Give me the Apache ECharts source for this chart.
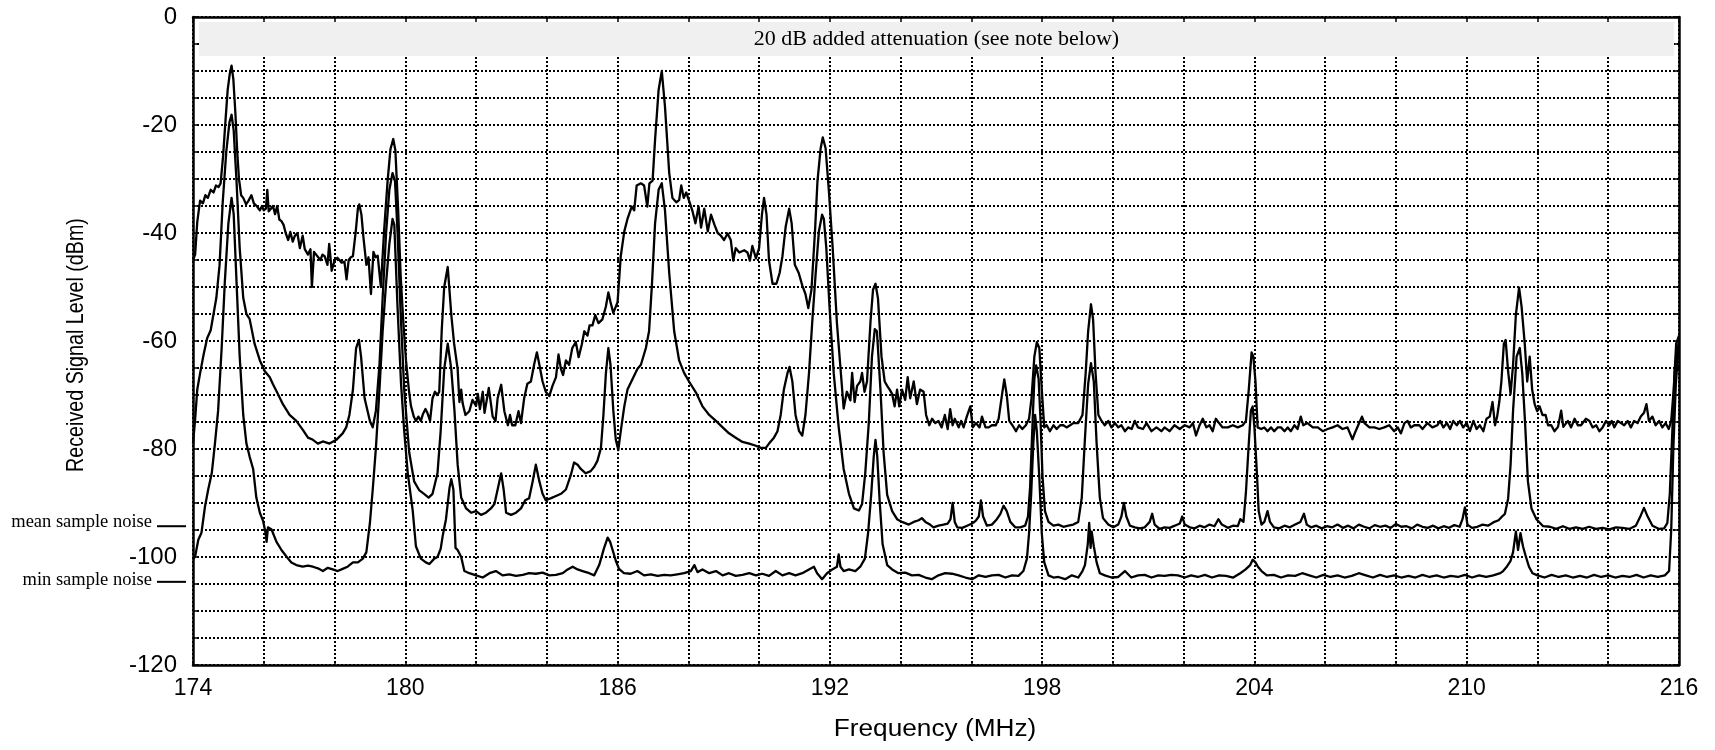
<!DOCTYPE html>
<html>
<head>
<meta charset="utf-8">
<script src="https://cdn.jsdelivr.net/npm/echarts@6.0.0/dist/echarts.min.js"></script>
<style>
	html, body { margin: 0; padding: 0; background: #fff; }
	#main { width: 1715px; height: 750px; }
</style>
</head>
<body>
<div id="main"></div>
<script>
// frequency range and level range (MHz, dBm)
const freqMin = 174;
const freqMax = 216;
const levelMin = -120;
const levelMax = 0;

// noise reference marks shown at the left of the plot
const meanNoiseLevel = -94.3;
const minNoiseLevel = -104.6;

// shaded band at the top of the plot
const bandFreq = [174.17, 215.86];
const bandLevel = [-0.9, -7.2];
const bandText = '20 dB added attenuation (see note below)';

// upper trace [MHz, dBm]
const upperTrace = [
	[174.0,-45],[174.06,-44],[174.12,-38],[174.2,-34],[174.28,-34.5],[174.35,-33],[174.42,-33.5],[174.5,-32],[174.58,-32.5],[174.65,-31.2],
	[174.72,-31.5],[174.78,-30.8],[174.85,-25.8],[174.92,-19],[174.98,-13.5],[175.04,-10.5],[175.09,-9],[175.14,-11.5],[175.2,-18],[175.25,-25],
	[175.3,-30],[175.36,-33],[175.42,-33.5],[175.5,-34.7],[175.57,-34],[175.65,-33],[175.72,-34.5],[175.8,-35],[175.89,-35.8],[175.95,-35],
	[176.0,-35.8],[176.06,-35.5],[176.1,-32],[176.14,-36],[176.2,-35.5],[176.26,-35],[176.32,-36.5],[176.38,-35],[176.44,-37.5],[176.5,-37.8],
	[176.56,-38.5],[176.62,-40],[176.69,-41.3],[176.75,-39.8],[176.82,-41.6],[176.88,-40.5],[176.95,-40],[177.02,-42.8],[177.1,-40.5],[177.16,-43],
	[177.25,-44],[177.32,-43],[177.36,-50],[177.42,-43.5],[177.48,-44],[177.53,-44.3],[177.6,-45],[177.66,-44],[177.72,-44.3],[177.8,-45.9],
	[177.85,-42],[177.92,-47],[178.0,-45.1],[178.08,-44.6],[178.14,-45],[178.2,-45.5],[178.28,-45.3],[178.34,-48.6],[178.4,-45],[178.46,-44.5],
	[178.52,-44.3],[178.6,-39.7],[178.66,-35.5],[178.7,-34.7],[178.76,-36.6],[178.82,-41],[178.9,-45.9],[178.96,-44.5],[179.03,-51.3],[179.1,-43.5],
	[179.16,-44.5],[179.22,-44.2],[179.31,-50],[179.4,-39.7],[179.5,-30.4],[179.58,-24.5],[179.66,-22.6],[179.72,-24.7],[179.8,-36],[179.87,-48],
	[179.94,-56],[180.02,-63.6],[180.1,-69],[180.16,-72],[180.24,-74],[180.3,-74.8],[180.37,-74],[180.44,-74.8],[180.5,-73.5],[180.57,-72.6],
	[180.63,-73.4],[180.7,-74.8],[180.77,-70.6],[180.84,-69.4],[180.9,-70],[180.96,-69.4],[181.03,-58],[181.1,-50],[181.2,-46.3],[181.3,-55.1],
	[181.38,-60.5],[181.48,-65.2],[181.53,-71.3],[181.58,-69],[181.62,-71.5],[181.7,-73.7],[181.81,-73],[181.9,-70.9],[182.0,-72],[182.05,-69.8],
	[182.11,-72.6],[182.19,-69.4],[182.24,-73.3],[182.36,-68.7],[182.47,-74],[182.55,-74.8],[182.61,-70.6],[182.71,-68.1],[182.8,-73],[182.9,-75.6],
	[182.96,-73.7],[183.02,-75.6],[183.11,-75.6],[183.2,-73],[183.27,-75.2],[183.36,-70.6],[183.45,-67.9],[183.55,-67.5],[183.64,-64.4],[183.72,-62.1],
	[183.79,-64.4],[183.88,-67.5],[183.97,-69.4],[184.07,-70.2],[184.16,-68.3],[184.26,-66.7],[184.33,-62.5],[184.4,-65.2],[184.46,-66.3],[184.54,-63.6],
	[184.63,-64.4],[184.72,-61.3],[184.82,-60.2],[184.9,-63],[184.99,-60.6],[185.06,-58.2],[185.15,-59],[185.21,-57.1],[185.29,-57.1],[185.37,-55.2],
	[185.46,-56.7],[185.57,-56],[185.67,-53.6],[185.74,-51],[185.8,-52.8],[185.88,-54.8],[186.0,-52.8],[186.09,-44.3],[186.19,-39.7],[186.28,-37.4],
	[186.4,-35.1],[186.47,-35.8],[186.54,-31.2],[186.66,-30.8],[186.75,-31.2],[186.84,-35.1],[186.9,-30.8],[186.99,-30.3],[187.06,-22.7],[187.16,-13.5],
	[187.25,-10],[187.34,-16.6],[187.46,-28.9],[187.55,-33.5],[187.66,-34.3],[187.74,-33.9],[187.8,-31.2],[187.87,-33.5],[187.94,-32.5],[188.02,-34],
	[188.12,-36],[188.2,-38.2],[188.29,-35.1],[188.36,-39],[188.45,-35.5],[188.55,-39.7],[188.64,-36.6],[188.74,-38.5],[188.83,-40],[188.92,-40.5],
	[189.01,-41.3],[189.11,-40.1],[189.2,-41.3],[189.27,-45.1],[189.34,-42.8],[189.44,-43.6],[189.58,-43.2],[189.67,-43.6],[189.74,-45.1],[189.81,-42.4],
	[189.91,-44.7],[190.0,-42.8],[190.08,-36.6],[190.14,-33.5],[190.21,-36.6],[190.28,-45.1],[190.38,-49.4],[190.49,-49.4],[190.58,-47.4],[190.66,-44.3],
	[190.75,-38.9],[190.85,-35.5],[190.92,-38.2],[191.01,-45.9],[191.12,-47.4],[191.22,-49.7],[191.31,-51.3],[191.39,-53.9],[191.48,-50.5],[191.58,-39.7],
	[191.65,-30.4],[191.74,-24.3],[191.8,-22.3],[191.88,-24.3],[191.97,-32],[192.08,-42.8],[192.2,-56.7],[192.33,-67.5],[192.39,-72.5],[192.48,-69.4],
	[192.58,-71],[192.63,-65.9],[192.7,-71.3],[192.77,-68.3],[192.86,-67.5],[192.91,-65.9],[192.98,-69.4],[193.05,-67.5],[193.15,-56.3],[193.22,-50.5],
	[193.29,-49.4],[193.36,-52.1],[193.46,-62.9],[193.55,-67.5],[193.62,-68.3],[193.69,-69],[193.76,-69.8],[193.83,-72.1],[193.9,-69],[193.96,-72.1],
	[194.04,-69],[194.13,-70.9],[194.2,-66.7],[194.27,-70.6],[194.37,-67.5],[194.46,-71.7],[194.55,-69],[194.65,-69.4],[194.72,-73.7],[194.81,-75.6],
	[194.89,-74.4],[194.98,-75.2],[195.07,-74.8],[195.16,-76],[195.25,-73.7],[195.33,-76.3],[195.4,-72.6],[195.47,-75.6],[195.53,-74.4],[195.64,-76],
	[195.71,-74.8],[195.78,-76],[195.87,-74],[195.97,-72.1],[196.04,-76],[196.13,-75.2],[196.23,-76],[196.3,-74],[196.4,-76],[196.49,-76],
	[196.58,-75.6],[196.69,-75.6],[196.77,-74.4],[196.86,-70.2],[196.93,-67.1],[197.0,-70],[197.07,-74.8],[197.16,-75.6],[197.26,-76.7],[197.35,-75.6],
	[197.44,-76.3],[197.54,-75.6],[197.63,-74.4],[197.7,-70.6],[197.78,-62.9],[197.85,-60.2],[197.92,-61.3],[197.99,-69],[198.06,-76],[198.13,-75.6],
	[198.22,-76.7],[198.32,-75.6],[198.41,-76.3],[198.51,-75.6],[198.6,-75.6],[198.69,-76],[198.79,-75.6],[198.88,-75.2],[199.02,-75.2],[199.14,-73.7],
	[199.23,-66],[199.3,-58.2],[199.38,-53.2],[199.44,-56],[199.51,-66],[199.59,-73.7],[199.68,-74.8],[199.77,-75.6],[199.87,-74.8],[199.96,-76],
	[200.06,-75.2],[200.15,-76],[200.24,-75.6],[200.34,-76.7],[200.43,-76],[200.53,-76.3],[200.62,-74.8],[200.71,-76],[200.85,-76.3],[200.95,-75.2],
	[201.09,-76.7],[201.23,-76],[201.37,-76.7],[201.46,-76],[201.6,-76.7],[201.74,-75.6],[201.89,-76.3],[202.03,-75.6],[202.17,-76],[202.26,-75.2],
	[202.35,-77.5],[202.45,-75.6],[202.54,-74.4],[202.64,-76],[202.73,-75.6],[202.82,-76.7],[202.91,-74.4],[203.0,-75.2],[203.1,-76],[203.25,-76],
	[203.39,-75.6],[203.53,-76],[203.67,-75.6],[203.76,-74.8],[203.84,-69],[203.92,-62.1],[203.97,-62.9],[204.03,-67.5],[204.09,-76],[204.19,-76.3],
	[204.28,-76],[204.37,-76.7],[204.47,-76],[204.56,-76.7],[204.66,-76],[204.75,-76],[204.85,-76.7],[204.94,-76],[205.03,-76.7],[205.13,-75.6],
	[205.22,-76.3],[205.31,-74],[205.38,-75.6],[205.5,-75.2],[205.65,-76],[205.79,-76],[205.93,-76.7],[206.07,-76.3],[206.21,-76],[206.35,-75.6],
	[206.49,-76.3],[206.63,-76],[206.77,-78.2],[206.86,-76.7],[206.96,-75.2],[207.04,-74],[207.11,-75.2],[207.25,-76],[207.39,-76],[207.53,-76.3],
	[207.67,-76],[207.81,-75.6],[207.95,-76.7],[208.05,-76],[208.14,-77.1],[208.24,-75.2],[208.33,-74.8],[208.42,-76],[208.52,-75.6],[208.66,-75.6],
	[208.75,-76.3],[208.89,-75.2],[209.03,-76],[209.17,-75.6],[209.25,-74.8],[209.34,-76],[209.44,-75.2],[209.53,-76.3],[209.62,-74.8],[209.72,-75.6],
	[209.81,-74.8],[209.9,-76],[210.0,-75.2],[210.09,-76.7],[210.19,-74.8],[210.28,-76.3],[210.37,-75.6],[210.47,-76.7],[210.56,-74.4],[210.65,-74],
	[210.73,-71.3],[210.8,-75.6],[210.86,-74],[210.92,-71.3],[210.98,-67.5],[211.05,-60.5],[211.1,-59.8],[211.17,-65.6],[211.24,-69.8],[211.31,-64.4],
	[211.39,-55.1],[211.48,-50.1],[211.55,-53.6],[211.64,-60.5],[211.71,-67.5],[211.78,-62.9],[211.85,-69],[211.92,-71.7],[211.99,-73],[212.06,-72.1],
	[212.14,-73.7],[212.23,-73.7],[212.3,-75.6],[212.39,-75.6],[212.48,-76.7],[212.58,-75.9],[212.67,-72.9],[212.73,-75.9],[212.86,-74.8],[212.95,-76],
	[213.05,-74.4],[213.14,-75.6],[213.23,-75.6],[213.37,-74.4],[213.47,-74.8],[213.56,-76],[213.66,-75.6],[213.75,-76.7],[213.84,-76],[213.94,-74.8],
	[214.03,-75.6],[214.1,-74.8],[214.17,-76],[214.27,-74.8],[214.36,-75.2],[214.45,-75.6],[214.55,-74.8],[214.64,-76],[214.73,-74.8],[214.83,-75.2],
	[214.92,-74],[215.01,-73.3],[215.08,-71.7],[215.15,-74.8],[215.25,-74],[215.34,-75.6],[215.44,-74.8],[215.53,-76],[215.62,-75.2],[215.71,-76.3],
	[215.78,-74.8],[215.85,-69],[215.92,-60.5],[216.0,-59]
];

// middle trace [MHz, dBm]
const middleTrace = [
	[174.0,-79],[174.06,-74.5],[174.12,-69],[174.2,-66],[174.3,-62.5],[174.4,-59.5],[174.5,-58],[174.58,-55],[174.66,-52],[174.75,-46],
	[174.84,-34.3],[174.94,-25],[175.03,-19.5],[175.09,-18.1],[175.15,-21],[175.23,-30.4],[175.32,-42.8],[175.42,-52],[175.51,-55],[175.6,-55.9],
	[175.74,-60.5],[175.89,-63.6],[176.03,-65.6],[176.17,-66.7],[176.26,-68],[176.4,-69.8],[176.54,-71.7],[176.73,-73.7],[176.92,-74.8],[177.1,-76.4],
	[177.25,-77.9],[177.39,-78.3],[177.53,-79],[177.67,-78.6],[177.86,-79],[178.05,-78.3],[178.23,-77.1],[178.33,-76],[178.42,-73.7],[178.52,-69],
	[178.61,-61.3],[178.69,-59.8],[178.75,-62.9],[178.85,-70.6],[179.0,-74.8],[179.08,-76],[179.17,-72.9],[179.27,-64.4],[179.36,-52],[179.46,-39.7],
	[179.55,-32],[179.64,-28.9],[179.71,-30.4],[179.78,-39.7],[179.87,-55],[179.97,-69],[180.11,-80.6],[180.25,-86],[180.39,-87.6],[180.53,-88.3],
	[180.66,-89],[180.77,-88.3],[180.91,-84.5],[181.0,-76.7],[181.1,-65.2],[181.2,-60.5],[181.3,-65.2],[181.39,-72.9],[181.48,-82.9],[181.58,-89],
	[181.72,-91],[181.86,-91.8],[182.0,-91.5],[182.14,-92.2],[182.28,-91.8],[182.42,-91],[182.52,-90.2],[182.61,-87.5],[182.71,-84.5],[182.78,-87.5],
	[182.85,-91.8],[182.99,-92.2],[183.13,-91.8],[183.27,-91],[183.39,-89.5],[183.5,-89.1],[183.6,-86],[183.69,-82.9],[183.79,-86],[183.88,-88.3],
	[183.97,-89.5],[184.12,-89.1],[184.26,-88.7],[184.4,-88.3],[184.54,-87.5],[184.68,-84.8],[184.77,-82.5],[184.87,-82.9],[184.96,-83.7],[185.1,-84.5],
	[185.24,-84.1],[185.34,-83.3],[185.43,-82.2],[185.53,-79.8],[185.6,-73.7],[185.67,-66],[185.74,-61.3],[185.8,-64.4],[185.88,-72.9],[185.95,-78.3],
	[186.02,-80.2],[186.09,-76.7],[186.19,-72.1],[186.28,-69],[186.42,-67.1],[186.56,-65.2],[186.66,-64.4],[186.8,-61.3],[186.89,-58.2],[186.97,-49.7],
	[187.06,-38.2],[187.16,-32],[187.25,-30.8],[187.34,-35.8],[187.46,-47.4],[187.6,-58.2],[187.74,-63.6],[187.88,-65.9],[188.02,-67.5],[188.22,-69.6],
	[188.4,-72.1],[188.59,-73.7],[188.78,-74.8],[188.97,-76],[189.15,-77.1],[189.34,-77.9],[189.53,-78.7],[189.72,-79],[189.91,-79.4],[190.05,-79.8],
	[190.19,-79.8],[190.28,-79],[190.42,-77.9],[190.52,-76.7],[190.61,-73.7],[190.7,-69],[190.8,-66],[190.86,-64.8],[190.94,-67.5],[191.03,-73.7],
	[191.13,-76.7],[191.22,-77.5],[191.31,-73.7],[191.41,-66],[191.5,-56.7],[191.6,-47.4],[191.69,-39.7],[191.78,-36.6],[191.83,-37.4],[191.9,-42.8],
	[191.99,-53.6],[192.11,-66],[192.25,-76],[192.39,-83.7],[192.54,-88.3],[192.68,-91],[192.82,-91.4],[192.91,-90.2],[193.0,-84.5],[193.1,-75.2],
	[193.19,-62.9],[193.27,-57.8],[193.33,-58.2],[193.43,-69],[193.52,-80.7],[193.62,-88.5],[193.76,-91.5],[193.9,-93],[194.04,-93.5],[194.23,-94],
	[194.37,-93.5],[194.51,-93.2],[194.6,-92.8],[194.7,-93.5],[194.83,-94],[194.93,-94.5],[195.07,-94.2],[195.21,-94],[195.33,-93.8],[195.41,-93],
	[195.47,-90],[195.53,-93.5],[195.6,-94.5],[195.74,-94.6],[195.88,-94.2],[196.02,-93.8],[196.12,-93.3],[196.21,-92.5],[196.27,-89.5],[196.33,-92.5],
	[196.44,-94.2],[196.58,-94],[196.72,-93],[196.82,-92],[196.91,-90.5],[197.0,-91.5],[197.1,-93.5],[197.24,-94.5],[197.38,-94.5],[197.52,-94.2],
	[197.6,-92.5],[197.66,-87],[197.73,-75],[197.78,-67],[197.83,-64.5],[197.9,-67],[197.95,-74],[198.01,-85],[198.08,-91.5],[198.18,-93.5],
	[198.32,-94.2],[198.46,-94],[198.6,-94.4],[198.74,-94.2],[198.88,-94],[199.02,-93.5],[199.12,-89],[199.21,-78],[199.3,-68],[199.38,-64.1],
	[199.46,-67.5],[199.54,-79],[199.63,-89],[199.72,-92.8],[199.87,-94],[200.01,-94.5],[200.15,-94],[200.24,-92.5],[200.31,-90],[200.38,-92.5],
	[200.48,-94.2],[200.62,-94.5],[200.76,-94.7],[200.9,-94.5],[201.04,-93.5],[201.11,-92],[201.18,-94],[201.32,-94.8],[201.46,-94.5],[201.6,-94.6],
	[201.75,-94.2],[201.89,-93.8],[201.96,-92.5],[202.03,-94],[202.17,-94.5],[202.31,-94.7],[202.45,-94.2],[202.59,-94.5],[202.73,-94],[202.87,-94.3],
	[202.98,-93],[203.08,-94],[203.25,-94.6],[203.39,-94.2],[203.53,-94.3],[203.6,-93],[203.69,-93.5],[203.76,-88],[203.84,-79],[203.9,-72.9],
	[203.95,-72.1],[204.0,-76],[204.07,-84.5],[204.12,-91.5],[204.2,-94],[204.28,-93.5],[204.37,-91.5],[204.44,-93.5],[204.55,-94.5],[204.7,-94.7],
	[204.85,-94.2],[205.0,-94.5],[205.15,-94],[205.3,-93.5],[205.4,-92],[205.48,-94],[205.6,-94.5],[205.75,-94.2],[205.9,-94.7],[206.05,-94.3],
	[206.2,-94.5],[206.35,-94],[206.5,-94.6],[206.65,-94.2],[206.8,-94.7],[206.95,-94],[207.1,-94.4],[207.25,-94.7],[207.4,-94.1],[207.55,-94.4],
	[207.7,-94.2],[207.85,-94.6],[208.0,-93.9],[208.15,-94.4],[208.3,-94.3],[208.45,-94.7],[208.6,-94],[208.75,-94.4],[208.9,-94.6],[209.05,-94.2],
	[209.2,-94.7],[209.35,-94.3],[209.5,-94.6],[209.65,-94.1],[209.8,-94.4],[209.88,-93],[209.95,-90.8],[210.02,-94],[210.15,-94.6],[210.3,-94.4],
	[210.45,-94],[210.6,-94.2],[210.75,-93.6],[210.9,-93.2],[211.0,-92.5],[211.08,-92],[211.17,-89.2],[211.24,-82.9],[211.31,-72.9],[211.41,-62.9],
	[211.5,-61.3],[211.57,-66],[211.65,-75.2],[211.73,-86],[211.83,-91],[211.97,-93],[212.16,-94.3],[212.35,-94.4],[212.53,-94.8],[212.72,-94.3],
	[212.9,-94.8],[213.09,-94.5],[213.28,-94.8],[213.46,-94.4],[213.65,-94.8],[213.84,-94.6],[214.03,-94.9],[214.22,-94.5],[214.4,-94.6],[214.59,-94.8],
	[214.78,-94.2],[214.92,-92.3],[215.01,-90.9],[215.1,-92.3],[215.25,-94.2],[215.44,-94.8],[215.58,-94.7],[215.67,-93.7],[215.74,-88.3],[215.81,-77],
	[215.88,-65.2],[216.0,-60]
];

// lower trace [MHz, dBm]
const lowerTrace = [
	[174.0,-100.5],[174.06,-99.9],[174.15,-96.8],[174.24,-95.5],[174.34,-90.6],[174.43,-87.5],[174.53,-84.5],[174.62,-79],[174.71,-72.9],[174.81,-61.3],
	[174.9,-49],[175.0,-38.2],[175.09,-33.5],[175.15,-36.5],[175.23,-49],[175.32,-62.9],[175.42,-73.7],[175.51,-79],[175.6,-81.4],[175.7,-83.7],
	[175.79,-89],[175.89,-91.8],[175.98,-93.3],[176.05,-95.5],[176.08,-97.2],[176.12,-94.5],[176.22,-94.9],[176.36,-97.2],[176.5,-98.7],[176.64,-99.9],
	[176.78,-101],[176.92,-101.5],[177.1,-101.8],[177.25,-101.6],[177.39,-101.8],[177.53,-102.1],[177.67,-102.6],[177.81,-102],[177.95,-102.3],[178.09,-102.6],
	[178.23,-102.2],[178.37,-101.8],[178.52,-101],[178.66,-101],[178.8,-100.3],[178.9,-99.1],[179.0,-93.7],[179.08,-87.5],[179.17,-79.8],[179.27,-69],
	[179.36,-58.2],[179.46,-49],[179.55,-42],[179.64,-37.4],[179.69,-38.5],[179.78,-53.6],[179.88,-67.9],[179.97,-76.7],[180.07,-84.5],[180.21,-91.4],
	[180.3,-98],[180.44,-100.3],[180.58,-101],[180.68,-101.3],[180.82,-100.3],[180.91,-100],[181.0,-98.5],[181.06,-96],[181.15,-93],[181.25,-87.2],
	[181.3,-85.6],[181.36,-87.5],[181.42,-98.3],[181.48,-98.7],[181.58,-100],[181.67,-102.6],[181.81,-103],[182.0,-103.4],[182.19,-103.8],[182.38,-103],
	[182.56,-102.6],[182.75,-103.4],[182.94,-103.2],[183.13,-103.5],[183.32,-103.3],[183.5,-103],[183.69,-103.1],[183.88,-102.9],[184.07,-103.4],[184.26,-103.3],
	[184.45,-103],[184.59,-102.3],[184.73,-101.8],[184.87,-102.3],[185.01,-102.6],[185.2,-103],[185.34,-103.4],[185.48,-101.5],[185.62,-98.3],[185.72,-96.4],
	[185.79,-97.2],[185.86,-98.7],[185.95,-100.7],[186.04,-102.2],[186.18,-103],[186.37,-103.1],[186.56,-102.6],[186.75,-103.4],[186.94,-103.2],[187.13,-103.5],
	[187.32,-103.3],[187.5,-103.4],[187.69,-103.2],[187.88,-103],[188.07,-102.6],[188.17,-101.5],[188.26,-102.8],[188.4,-102.3],[188.59,-103],[188.78,-102.6],
	[188.97,-103.4],[189.15,-103],[189.34,-103.5],[189.53,-103.3],[189.72,-103],[189.91,-103.4],[190.09,-103.1],[190.28,-103.5],[190.47,-102.6],[190.66,-103.4],
	[190.85,-103],[191.03,-103.4],[191.22,-103],[191.41,-102.3],[191.55,-101.8],[191.64,-103],[191.78,-104.1],[191.92,-103],[192.07,-102.3],[192.2,-101.8],
	[192.25,-99.5],[192.3,-101.8],[192.39,-102.6],[192.54,-102.3],[192.72,-102.6],[192.86,-101.8],[192.99,-100.3],[193.08,-95.6],[193.17,-88.3],[193.24,-81.4],
	[193.29,-78.3],[193.34,-81.4],[193.41,-89.9],[193.49,-97.6],[193.62,-101.5],[193.76,-102.3],[193.94,-103],[194.13,-102.9],[194.32,-103.4],[194.51,-103.3],
	[194.7,-103.8],[194.88,-104.1],[195.07,-103.4],[195.26,-103],[195.45,-103.1],[195.64,-103.4],[195.83,-103.8],[196.02,-104.1],[196.21,-103.4],[196.4,-103.7],
	[196.58,-103.4],[196.77,-103.3],[196.96,-103.8],[197.15,-103.4],[197.33,-103.5],[197.47,-102.6],[197.57,-100.3],[197.63,-95.6],[197.69,-88.3],[197.75,-79],
	[197.8,-73.7],[197.85,-76.7],[197.92,-85.3],[197.99,-95.6],[198.06,-101],[198.18,-103.4],[198.32,-103.8],[198.46,-103.7],[198.65,-104.1],[198.84,-103.4],
	[199.02,-103.8],[199.14,-102.6],[199.21,-101.5],[199.29,-97.6],[199.33,-93.7],[199.37,-98.3],[199.4,-95.3],[199.46,-98],[199.54,-101],[199.63,-103],
	[199.77,-103.4],[199.96,-103.8],[200.15,-103.7],[200.34,-102.6],[200.52,-103.8],[200.71,-103.4],[200.9,-103.3],[201.09,-103.8],[201.28,-103.4],[201.46,-103.5],
	[201.65,-103.3],[201.84,-103.4],[202.03,-103.8],[202.21,-103.4],[202.4,-103.7],[202.6,-103.3],[202.8,-103.8],[203.0,-103.4],[203.2,-103.5],[203.4,-103.8],
	[203.6,-103],[203.75,-102.3],[203.88,-101.5],[203.95,-100.5],[204.03,-101],[204.1,-101.8],[204.2,-102.6],[204.35,-103.4],[204.55,-103.3],[204.75,-103.8],
	[204.95,-103.4],[205.15,-103.5],[205.35,-103],[205.55,-103.4],[205.75,-103.8],[205.95,-103.3],[206.15,-103.7],[206.35,-103.4],[206.55,-103.8],[206.75,-103.5],
	[206.95,-103],[207.15,-103.4],[207.35,-103.8],[207.55,-103.3],[207.75,-103.7],[207.95,-103.4],[208.15,-103.8],[208.35,-103.5],[208.55,-103.8],[208.75,-103.3],
	[208.95,-103.7],[209.15,-103.4],[209.35,-103.8],[209.55,-103.5],[209.75,-103.7],[209.95,-103.3],[210.15,-103.8],[210.35,-103.4],[210.55,-103.7],[210.75,-103.4],
	[210.95,-103],[211.03,-102.6],[211.12,-101.9],[211.24,-100.7],[211.31,-99.1],[211.39,-95.3],[211.45,-98.7],[211.52,-95.6],[211.59,-98],[211.67,-99.9],
	[211.76,-101.8],[211.86,-103],[212.0,-103.4],[212.2,-103.8],[212.4,-103.3],[212.6,-103.7],[212.8,-103.4],[213.0,-103.8],[213.2,-103.5],[213.4,-103.8],
	[213.6,-103.3],[213.8,-103.7],[214.0,-103.4],[214.2,-103.8],[214.4,-103.5],[214.6,-103.7],[214.8,-103.3],[215.0,-103.8],[215.2,-103.4],[215.4,-103.7],
	[215.6,-103.4],[215.72,-102.6],[215.78,-95],[215.84,-80],[215.91,-68],[216.0,-60]
];

const myChart = echarts.init(document.getElementById('main'), null, { renderer: 'canvas' });

const axisColor = '#000';
const tickFont = 'Liberation Sans, Arial, sans-serif';
const serif = 'Liberation Serif, Times New Roman, serif';

function traceSeries(name, data) {
	return {
		name: name,
		type: 'line',
		data: data,
		symbol: 'none',
		showSymbol: false,
		silent: true,
		animation: false,
		lineStyle: { color: '#000', width: 2.3, join: 'round' },
		z: 3
	};
}

const upper = traceSeries('upper', upperTrace);
upper.markArea = {
	silent: true,
	itemStyle: { color: '#f0f0f0' },
	label: {
		show: true,
		position: 'inside',
		color: '#000',
		fontFamily: serif,
		fontSize: 22
	},
	data: [
		[
			{ name: bandText, coord: [bandFreq[0], bandLevel[0]] },
			{ coord: [bandFreq[1], bandLevel[1]] }
		]
	]
};

const gridDots = { color: '#000', width: 2, type: [2, 2] };

const option = {
	backgroundColor: '#fff',
	animation: false,
	grid: {
		left: 193,
		right: 36,
		top: 17,
		bottom: 85,
		containLabel: false,
		outerBoundsMode: 'none'
	},
	xAxis: [
		{
			type: 'value',
			min: freqMin,
			max: freqMax,
			interval: 2,
			axisLine: { show: true, onZero: false, lineStyle: { color: axisColor, width: 2.5 } },
			axisTick: { show: true, inside: true, length: 4, lineStyle: { color: axisColor, width: 1.5 } },
			axisLabel: {
				color: '#000',
				fontFamily: tickFont,
				fontSize: 23,
				margin: 12,
				formatter: v => ((v - freqMin) % 6 === 0 ? String(v) : '')
			},
			splitLine: { show: true, lineStyle: gridDots }
		},
		{
			type: 'value',
			position: 'top',
			min: freqMin,
			max: freqMax,
			interval: 2,
			axisLine: { show: true, onZero: false, lineStyle: { color: axisColor, width: 2.5 } },
			axisTick: { show: true, inside: true, length: 4, lineStyle: { color: axisColor, width: 1.5 } },
			axisLabel: { show: false },
			splitLine: { show: false }
		}
	],
	yAxis: [
		{
			type: 'value',
			min: levelMin,
			max: levelMax,
			interval: 5,
			axisLine: { show: true, onZero: false, lineStyle: { color: axisColor, width: 2.5 } },
			axisTick: { show: true, inside: true, length: 4, lineStyle: { color: axisColor, width: 1.5 } },
			axisLabel: {
				color: '#000',
				fontFamily: tickFont,
				fontSize: 24,
				margin: 16,
				formatter: v => (v % 20 === 0 ? String(v) : '')
			},
			splitLine: { show: true, lineStyle: gridDots }
		},
		{
			type: 'value',
			position: 'right',
			min: levelMin,
			max: levelMax,
			interval: 5,
			axisLine: { show: true, onZero: false, lineStyle: { color: axisColor, width: 2.5 } },
			axisTick: { show: true, inside: true, length: 4, lineStyle: { color: axisColor, width: 1.5 } },
			axisLabel: { show: false },
			splitLine: { show: false }
		}
	],
	series: [upper, traceSeries('middle', middleTrace), traceSeries('lower', lowerTrace)]
};

myChart.setOption(option);

// axis titles and noise marks at the left
const meanY = myChart.convertToPixel({ yAxisIndex: 0 }, meanNoiseLevel);
const minY = myChart.convertToPixel({ yAxisIndex: 0 }, minNoiseLevel);

myChart.setOption({
	graphic: [
		{
			type: 'text',
			x: 76,
			y: 345,
			rotation: Math.PI / 2,
			scaleX: 0.82,
			style: {
				text: 'Received Signal Level (dBm)',
				fontFamily: tickFont,
				fontSize: 24,
				fill: '#000',
				align: 'center',
				verticalAlign: 'middle'
			}
		},
		{
			type: 'text',
			x: 935,
			y: 730,
			scaleX: 1.14,
			style: {
				text: 'Frequency (MHz)',
				fontFamily: tickFont,
				fontSize: 23,
				fill: '#000',
				align: 'center',
				verticalAlign: 'middle'
			}
		},
		{
			type: 'text',
			x: 152,
			y: meanY - 4.5,
			style: { text: 'mean sample noise', fontFamily: serif, fontSize: 18.5, fill: '#000', align: 'right', verticalAlign: 'middle' }
		},
		{
			type: 'line',
			shape: { x1: 157, y1: meanY, x2: 186, y2: meanY },
			style: { stroke: '#000', lineWidth: 2 }
		},
		{
			type: 'text',
			x: 152,
			y: minY - 1.5,
			style: { text: 'min sample noise', fontFamily: serif, fontSize: 18.5, fill: '#000', align: 'right', verticalAlign: 'middle' }
		},
		{
			type: 'line',
			shape: { x1: 157, y1: minY, x2: 186, y2: minY },
			style: { stroke: '#000', lineWidth: 2 }
		}
	]
});
</script>
</body>
</html>
